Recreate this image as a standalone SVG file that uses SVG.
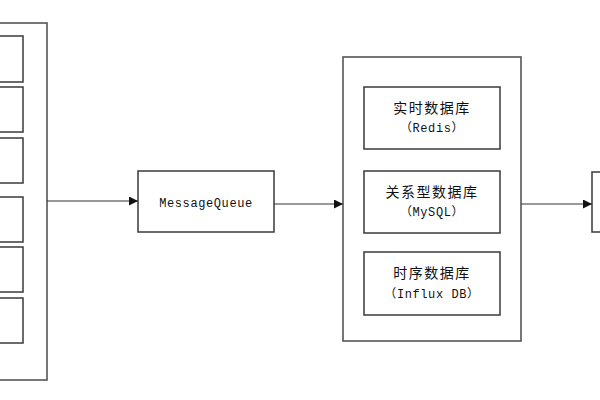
<svg xmlns="http://www.w3.org/2000/svg" width="600" height="400" viewBox="0 0 600 400">
<defs>
<style>
.box{fill:#fff;stroke:#3a3a3a;stroke-width:1.5}
.outer{fill:#fff;stroke:#555;stroke-width:1.6}
.edge{fill:none;stroke:#333;stroke-width:1.2}
.cn{font-family:"Noto Sans CJK SC","Liberation Serif",sans-serif;font-size:14px;letter-spacing:1.5px;fill:#111;text-anchor:middle}
.en{font-family:"Liberation Mono","Noto Sans CJK SC",monospace;font-size:12px;letter-spacing:0.6px;fill:#111;text-anchor:middle}
</style>
<marker id="arr" viewBox="0 0 10 10" refX="10" refY="5" markerWidth="9" markerHeight="9" markerUnits="userSpaceOnUse" orient="auto">
<path d="M0,0 L10,5 L0,10 Z" fill="#111"/>
</marker>
</defs>
<rect width="600" height="400" fill="#fff"/>

<g id="sources">
<rect class="outer" x="-10" y="23" width="57" height="357"/>
<rect class="box" x="-10" y="36" width="33" height="46"/>
<rect class="box" x="-10" y="87" width="33" height="45"/>
<rect class="box" x="-10" y="138" width="33" height="45"/>
<rect class="box" x="-10" y="197" width="33" height="45"/>
<rect class="box" x="-10" y="247" width="33" height="45"/>
<rect class="box" x="-10" y="298" width="33" height="45"/>
</g>

<g id="mq">
<rect class="box" x="138" y="171" width="136" height="61"/>
<text class="en" x="206" y="207">MessageQueue</text>
</g>

<g id="storage">
<rect class="outer" x="343" y="57" width="178" height="284"/>
<g id="redis">
<rect class="box" x="364" y="87" width="136" height="62"/>
<text class="cn" x="432" y="113">实时数据库</text>
<text class="en" x="432" y="132">（Redis）</text>
</g>
<g id="mysql">
<rect class="box" x="364" y="171" width="136" height="62"/>
<text class="cn" x="432" y="197">关系型数据库</text>
<text class="en" x="432" y="216">（MySQL）</text>
</g>
<g id="influx">
<rect class="box" x="364" y="252" width="136" height="63"/>
<text class="cn" x="432" y="278">时序数据库</text>
<text class="en" x="432" y="298">（Influx DB）</text>
</g>
</g>

<g id="output">
<rect class="box" x="592" y="172" width="20" height="60"/>
</g>

<g id="connectors">
<line class="edge" x1="47" y1="201" x2="138" y2="201" marker-end="url(#arr)"/>
<line class="edge" x1="274" y1="204" x2="343" y2="204" marker-end="url(#arr)"/>
<line class="edge" x1="521" y1="204" x2="592" y2="204" marker-end="url(#arr)"/>
</g>
</svg>
